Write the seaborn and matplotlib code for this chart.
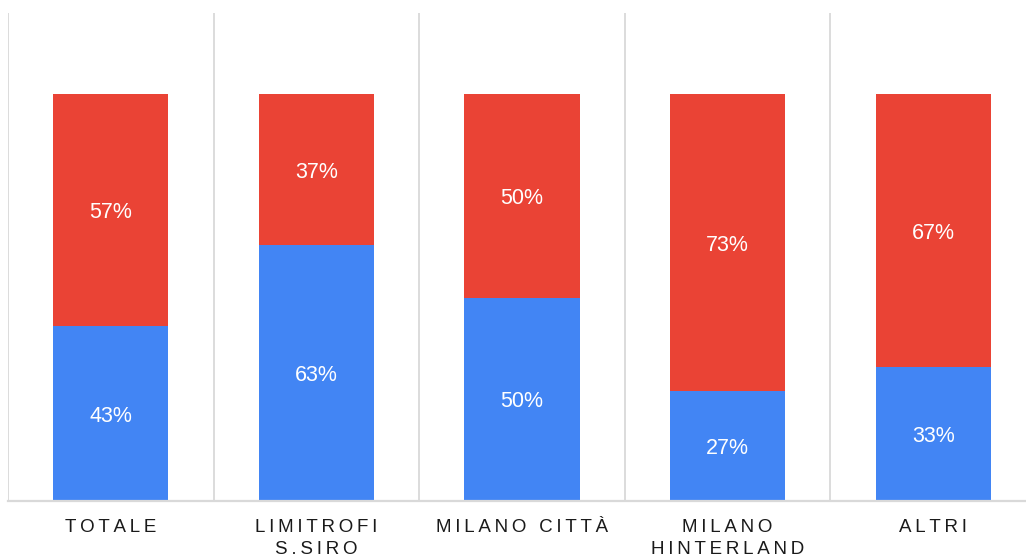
import matplotlib.pyplot as plt
import numpy as np
import pandas as pd
import seaborn as sns

# categories and shares (percent)
categories = ["TOTALE", "LIMITROFI\nS.SIRO", "MILANO CITTÀ", "MILANO\nHINTERLAND", "ALTRI"]
blue_share = [43, 63, 50, 27, 33]
red_share = [57, 37, 50, 73, 67]

BLUE = "#4285F4"
RED = "#EA4335"

df = pd.DataFrame({"cat": categories, "blue": blue_share, "red": red_share})
df["total"] = df["blue"] + df["red"]

sns.set_theme(style="white")
plt.rcParams["font.family"] = ["Liberation Sans", "DejaVu Sans"]

fig = plt.figure(figsize=(10.26, 5.57), dpi=100)
ax = fig.add_axes([8 / 1026, 56 / 557, 1028 / 1026, 488 / 557])

# stacked: full bar in red, blue part drawn over it
sns.barplot(data=df, x="cat", y="total", color=RED, width=0.56, ax=ax,
            saturation=1, linewidth=0)
sns.barplot(data=df, x="cat", y="blue", color=BLUE, width=0.56, ax=ax,
            saturation=1, linewidth=0)

for i, (b, r) in enumerate(zip(blue_share, red_share)):
    ax.text(i, b / 2, f"{b}%", ha="center", va="center_baseline", color="white", fontsize=15.5)
    ax.text(i, b + r / 2, f"{r}%", ha="center", va="center_baseline", color="white", fontsize=15.5)

ax.set_ylim(0, 120)
ax.set_xlim(-0.5, 4.5)
ax.set_yticks([])
ax.set_xlabel("")
ax.set_ylabel("")

# vertical separators between categories
for x in np.arange(-0.5, 4.5, 1):
    ax.axvline(x, color="#d9d9d9", linewidth=1.3, zorder=0)

for s in ["top", "right", "left"]:
    ax.spines[s].set_visible(False)
ax.spines["bottom"].set_color("#d9d9d9")
ax.spines["bottom"].set_linewidth(1.6)

# letter-spaced tick labels
spaced = ["\n".join("\u2009".join(line) for line in c.split("\n")) for c in categories]
ax.set_xticks(range(len(categories)))
ax.set_xticklabels(spaced, fontsize=13.5, color="#1a1a1a", linespacing=1.35)
ax.tick_params(axis="x", length=0, pad=13)

fig.savefig("out.png", dpi=100)
